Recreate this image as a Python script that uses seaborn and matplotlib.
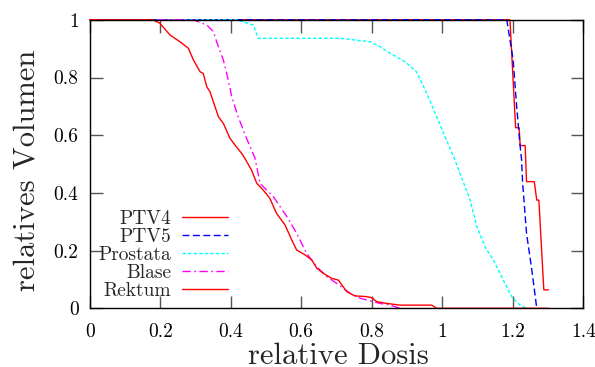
import matplotlib
matplotlib.use("Agg")
import matplotlib.pyplot as plt
import seaborn as sns
import pandas as pd
from matplotlib.ticker import FixedLocator, FuncFormatter

# ---- data ----
ptv4_x = [0.0, 1.192, 1.208, 1.218, 1.221, 1.235, 1.239, 1.261, 1.268, 1.274, 1.288, 1.301]
ptv4_y = [1.0, 1.0, 0.626, 0.626, 0.564, 0.564, 0.439, 0.439, 0.375, 0.375, 0.064, 0.064]

ptv5_x = [0.0, 1.183, 1.201, 1.211, 1.220, 1.225, 1.228, 1.239, 1.254, 1.268]
ptv5_y = [1.0, 1.0, 0.861, 0.699, 0.572, 0.514, 0.433, 0.260, 0.133, 0.0]

prost_x = [0.0, 0.417, 0.464, 0.478, 0.710, 0.795, 0.823, 0.852, 0.894, 0.927, 0.956,
           0.984, 1.012, 1.036, 1.050, 1.079, 1.098, 1.121, 1.145, 1.173, 1.197, 1.220, 1.239]
prost_y = [1.0, 1.0, 0.982, 0.936, 0.936, 0.924, 0.907, 0.884, 0.855, 0.820, 0.745,
           0.664, 0.583, 0.514, 0.468, 0.375, 0.283, 0.214, 0.167, 0.098, 0.040, 0.011, 0.0]

blase_x = [0.0, 0.294, 0.332, 0.351, 0.360, 0.379, 0.393, 0.403, 0.421, 0.445, 0.469,
           0.483, 0.521, 0.559, 0.587, 0.615, 0.644, 0.672, 0.700, 0.738, 0.767, 0.823,
           0.852, 0.880]
blase_y = [1.0, 1.0, 0.982, 0.959, 0.924, 0.861, 0.791, 0.733, 0.664, 0.589, 0.520,
           0.433, 0.387, 0.318, 0.260, 0.191, 0.144, 0.110, 0.087, 0.052, 0.035, 0.017,
           0.011, 0.0]

rekt_x = [0.0, 0.180, 0.199, 0.228, 0.256, 0.280, 0.294, 0.313, 0.322, 0.332, 0.341,
          0.365, 0.379, 0.398, 0.412, 0.431, 0.440, 0.459, 0.474, 0.492, 0.511, 0.530,
          0.554, 0.573, 0.587, 0.611, 0.630, 0.644, 0.663, 0.686, 0.705, 0.729, 0.752,
          0.781, 0.800, 0.814, 0.842, 0.880, 0.970, 0.984, 1.301]
rekt_y = [1.0, 1.0, 0.988, 0.947, 0.924, 0.901, 0.861, 0.820, 0.814, 0.768, 0.751,
          0.664, 0.641, 0.589, 0.566, 0.537, 0.520, 0.479, 0.433, 0.410, 0.381, 0.329,
          0.289, 0.237, 0.202, 0.185, 0.167, 0.139, 0.121, 0.104, 0.098, 0.058, 0.043,
          0.041, 0.037, 0.023, 0.017, 0.011, 0.011, 0.0, 0.0]

labels = ["PTV4", "PTV5", "Prostata", "Blase", "Rektum"]
x_ticks = [0, 0.2, 0.4, 0.6, 0.8, 1.0, 1.2, 1.4]
y_ticks = [0, 0.2, 0.4, 0.6, 0.8, 1.0]

series = [
    (labels[0], ptv4_x, ptv4_y, "#ff0000", "-"),
    (labels[1], ptv5_x, ptv5_y, "#0000ff", (0, (5, 2.5))),
    (labels[2], prost_x, prost_y, "#00ffff", (0, (2.5, 1.5))),
    (labels[3], blase_x, blase_y, "#ff00ff", (0, (6, 2.5, 1.2, 2.5))),
    (labels[4], rekt_x, rekt_y, "#ff0000", "-"),
]

sns.set_theme(style="white")
plt.rcParams["font.family"] = ["cmr10", "DejaVu Serif"]
plt.rcParams["axes.formatter.use_mathtext"] = True

fig = plt.figure(figsize=(5.95, 3.67), dpi=100)
ax = fig.add_axes([89.7 / 595, (367 - 308.3) / 367, (583.3 - 89.7) / 595, (308.3 - 19.8) / 367])

for name, xs, ys, col, ls in series:
    df = pd.DataFrame({"x": xs, "y": ys})
    sns.lineplot(data=df, x="x", y="y", ax=ax, sort=False, estimator=None,
                 color=col, linewidth=1.0, label=name, clip_on=False)
    ax.lines[-1].set_linestyle(ls)

ax.set_xlim(0, 1.4)
ax.set_ylim(0, 1)
ax.xaxis.set_major_locator(FixedLocator(x_ticks))
ax.yaxis.set_major_locator(FixedLocator(y_ticks))
fmt = FuncFormatter(lambda v, p: "%g" % v)
ax.xaxis.set_major_formatter(fmt)
ax.yaxis.set_major_formatter(fmt)
ax.tick_params(direction="in", length=9, width=1, color="#555555",
               top=True, right=True, bottom=True, left=True,
               labelsize=14, labelcolor="black")
ax.tick_params(axis="x", pad=11)
ax.tick_params(axis="y", pad=8)
for s in ax.spines.values():
    s.set_color("black")
    s.set_linewidth(1.0)

ax.set_xlabel("relative Dosis", fontsize=22, va="baseline")
ax.set_ylabel("relatives Volumen", fontsize=22, va="baseline")
ax.xaxis.set_label_coords((338 - 89.7) / 493.6, (308.3 - 363.5) / 288.5)
ax.yaxis.set_label_coords((35 - 89.7) / 493.6, (308.3 - 170.5) / 288.5)

leg = ax.legend(loc="lower left", bbox_to_anchor=(0.0, 0.0), frameon=False,
                markerfirst=False, fontsize=14, handlelength=2.35,
                labelspacing=0.0, handletextpad=0.55, borderaxespad=0.05)

fig.savefig("out.png", dpi=100)
